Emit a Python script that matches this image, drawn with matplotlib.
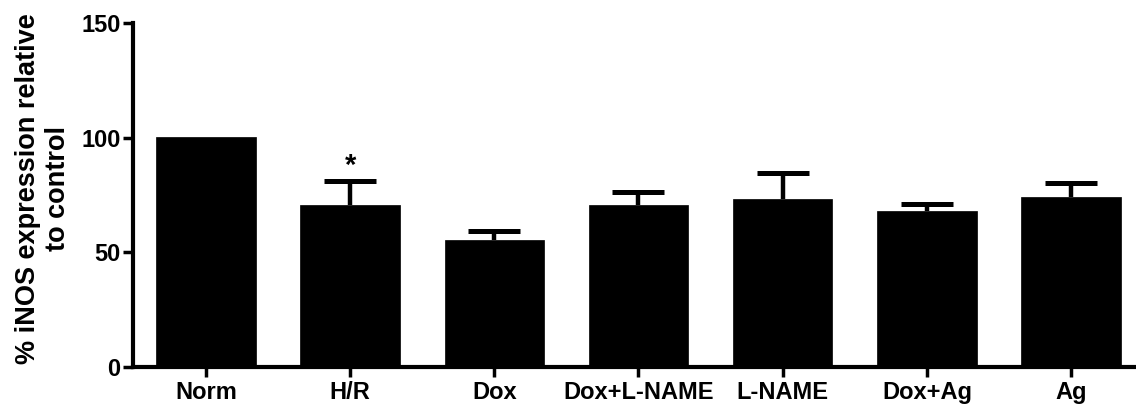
import matplotlib
matplotlib.use("Agg")
import matplotlib.pyplot as plt
import numpy as np

plt.rcParams['font.family'] = ['Liberation Sans', 'DejaVu Sans']
plt.rcParams['font.weight'] = 'bold'

categories = ["Norm", "H/R", "Dox", "Dox+L-NAME", "L-NAME", "Dox+Ag", "Ag"]
means = [100.3, 70.8, 55.3, 70.7, 73.5, 68.2, 74.1]
errors = [0.0, 10.4, 4.1, 5.7, 11.2, 3.0, 6.1]
stars = ["", "*", "", "", "", "", ""]
yticks = [0, 50, 100, 150]

fig = plt.figure(figsize=(11.36, 4.07), dpi=100)
ax = fig.add_axes([0.117, 0.098, 0.883, 0.845])

x = np.arange(len(categories))
ax.bar(x, means, width=0.69, color="black", edgecolor="black", linewidth=0.5, zorder=2)
for xi, m, e in zip(x, means, errors):
    if e > 0:
        _, caps, _ = ax.errorbar(xi, m, yerr=[[0], [e]], fmt="none", ecolor="black",
                                 elinewidth=3.2, capsize=19, capthick=3.6, zorder=1)
        caps[0].set_visible(False)
for xi, m, e, s in zip(x, means, errors, stars):
    if s:
        ax.text(xi, m + e + 0.3, s, ha="center", va="bottom", fontsize=21, fontweight="bold")

ax.set_xlim(-0.506, 6.45)
ax.set_ylim(0, 150)
ax.set_yticks(yticks)
ax.set_xticks(x)
ax.set_xticklabels(categories, fontsize=17, fontweight="bold")
ax.tick_params(axis="y", labelsize=17, width=2.5, length=7, pad=2)
ax.tick_params(axis="x", width=2.5, length=7, pad=3)
for lab in ax.get_yticklabels():
    lab.set_fontweight("bold")
for sp in ["top", "right"]:
    ax.spines[sp].set_visible(False)
for sp in ["left", "bottom"]:
    ax.spines[sp].set_linewidth(3)
ax.set_ylabel("% iNOS expression relative\nto control", fontsize=19.5, fontweight="bold",
              linespacing=1.2)
ax.yaxis.set_label_coords(-0.062, 0.52)

fig.savefig("out.png", dpi=100)
